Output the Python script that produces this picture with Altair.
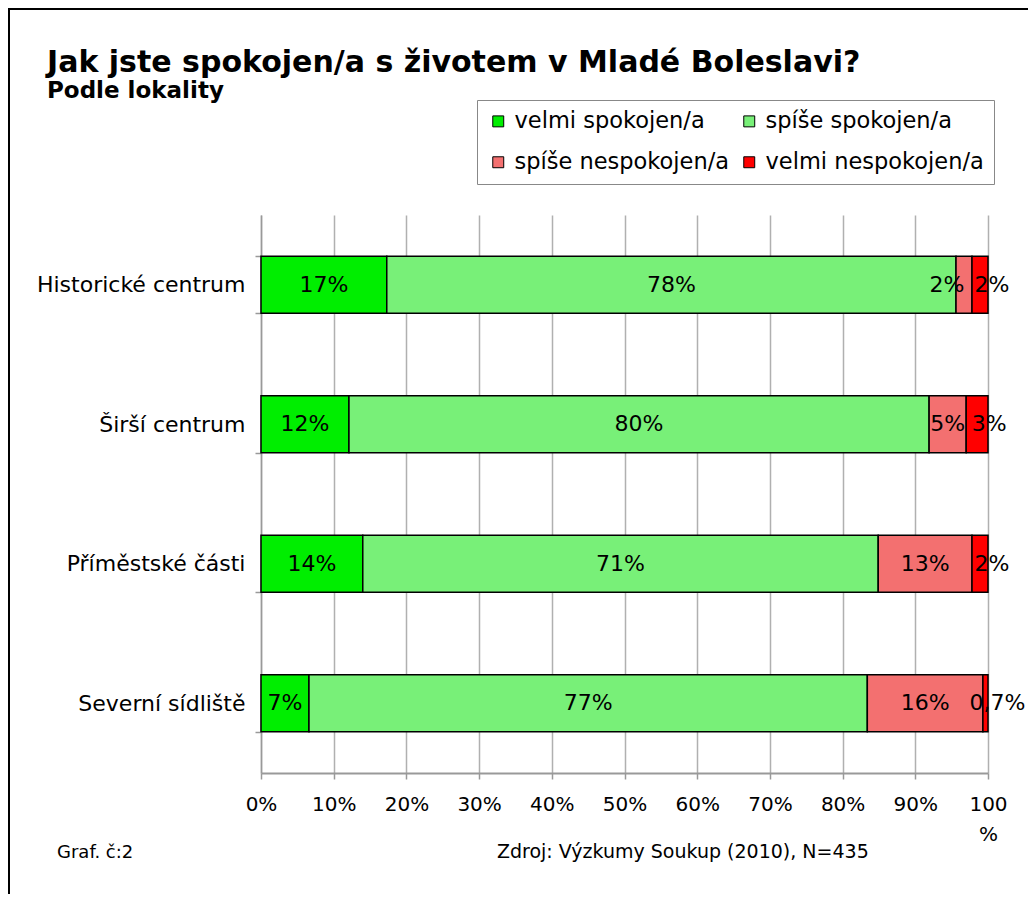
import altair as alt
import pandas as pd

categories = ["Historické centrum", "Širší centrum", "Příměstské části", "Severní sídliště"]
series = ["velmi spokojen/a", "spíše spokojen/a", "spíše nespokojen/a", "velmi nespokojen/a"]
velmi_spokojen = [17.3, 12.1, 14.0, 6.6]
spise_spokojen = [78.3, 79.8, 70.9, 76.8]
spise_nespokojen = [2.2, 5.1, 12.9, 15.9]
velmi_nespokojen = [2.2, 3.0, 2.2, 0.7]
labels_vs = ["17%", "12%", "14%", "7%"]
labels_ss = ["78%", "80%", "71%", "77%"]
labels_sn = ["2%", "5%", "13%", "16%"]
labels_vn = ["2%", "3%", "2%", "0,7%"]
colors = ["#00ee00", "#78f078", "#f37070", "#ff0000"]

title_text = "Jak jste spokojen/a s životem v Mladé Boleslavi?"
subtitle_text = "Podle lokality"
footer_left = "Graf. č:2"
footer_right = "Zdroj: Výzkumy Soukup (2010), N=435"

rows = []
for s_i, (vals, labs) in enumerate(zip(
        [velmi_spokojen, spise_spokojen, spise_nespokojen, velmi_nespokojen],
        [labels_vs, labels_ss, labels_sn, labels_vn])):
    for c, v, l in zip(categories, vals, labs):
        rows.append({"cat": c, "series": series[s_i], "ord": s_i, "value": v, "label": l})
df = pd.DataFrame(rows)

FONT = "DejaVu Sans"

yenc = alt.Y("cat:N", sort=categories, title=None,
             scale=alt.Scale(paddingInner=0.59, paddingOuter=0.295),
             axis=alt.Axis(labelFontSize=22, labelFont=FONT, labelColor="black",
                           labelPadding=10, labelLimit=400, tickBand="extent", tickSize=6,
                           tickColor="#999", domainColor="#999", domainWidth=1.5,
                           tickWidth=1.5, grid=False))

bars = alt.Chart(df).mark_bar(stroke="black", strokeWidth=1.5).encode(
    x=alt.X("value:Q", stack="zero", title=None,
            scale=alt.Scale(domain=[0, 100], nice=False),
            axis=alt.Axis(values=list(range(0, 101, 10)),
                          labelExpr="datum.value == 100 ? ['100', '%'] : datum.value + '%'",
                          labelFontSize=20, labelFont=FONT, labelColor="black",
                          labelFlush=False, labelOverlap=False,
                          labelPadding=15, labelLineHeight=30, labelBaseline="top",
                          tickSize=6, tickColor="#999", tickWidth=1.5,
                          domainColor="#999", domainWidth=2,
                          grid=True, gridColor="#b0b0b0", gridWidth=1.5)),
    y=yenc,
    color=alt.Color("series:N", sort=series,
                    scale=alt.Scale(domain=series, range=colors),
                    legend=alt.Legend(orient="none", legendX=216, legendY=-115,
                                      columns=2, direction="horizontal", title=None,
                                      symbolType="square",
                                      symbolSize=120, symbolStrokeColor="black",
                                      symbolStrokeWidth=1, symbolOpacity=1,
                                      labelFont=FONT, labelFontSize=22.5, labelColor="black",
                                      strokeColor="#888", padding=10, rowPadding=18,
                                      columnPadding=8, labelOffset=5, labelLimit=400,
                                      fillColor="white")),
    order=alt.Order("ord:Q"),
)

base_lab = alt.Chart(df).transform_stack(
    stack="value", groupby=["cat"], sort=[alt.SortField("ord")], as_=["x0", "x1"]
).transform_calculate(mid="(datum.x0 + datum.x1) / 2")


def lab_layer(flt, dx):
    return base_lab.transform_filter(flt).mark_text(
        font=FONT, fontSize=22, color="black", dx=dx, baseline="middle"
    ).encode(x="mid:Q", y=alt.Y("cat:N", sort=categories), text="label:N")


lab_main = lab_layer("datum.ord <= 1 || (datum.ord == 2 && datum.cat != 'Historické centrum')", 0)
lab_hist = lab_layer("datum.ord == 2 && datum.cat == 'Historické centrum'", -17)
lab_red = lab_layer("datum.ord == 3", 12)

title = alt.Chart(pd.DataFrame({"t": [title_text]})).mark_text(
    font=FONT, fontSize=30, fontWeight="bold", align="left", baseline="alphabetic", color="black"
).encode(text="t:N", x=alt.value(-214), y=alt.value(-143))
subtitle = alt.Chart(pd.DataFrame({"t": [subtitle_text]})).mark_text(
    font=FONT, fontSize=23, fontWeight="bold", align="left", baseline="alphabetic", color="black"
).encode(text="t:N", x=alt.value(-214), y=alt.value(-117))
foot_l = alt.Chart(pd.DataFrame({"t": [footer_left]})).mark_text(
    font=FONT, fontSize=18, align="left", baseline="alphabetic", color="black"
).encode(text="t:N", x=alt.value(-204), y=alt.value(643))
foot_r = alt.Chart(pd.DataFrame({"t": [footer_right]})).mark_text(
    font=FONT, fontSize=19, align="left", baseline="alphabetic", color="black"
).encode(text="t:N", x=alt.value(236), y=alt.value(643))
frame = alt.Chart(pd.DataFrame({"t": [0]})).mark_rect(
    fillOpacity=0, stroke="black", strokeWidth=2
).encode(x=alt.value(-252), y=alt.value(-206), x2=alt.value(800), y2=alt.value(720))

chart = alt.layer(frame, bars, lab_main, lab_hist, lab_red, title, subtitle, foot_l, foot_r).properties(
    width=727, height=558,
    autosize=alt.AutoSizeParams(type="none"),
    padding={"left": 253, "top": 207, "right": 40, "bottom": 121},
    background="white",
).configure_view(stroke=None)

chart.save("out.html", embed_options={"renderer": "svg", "actions": False})
